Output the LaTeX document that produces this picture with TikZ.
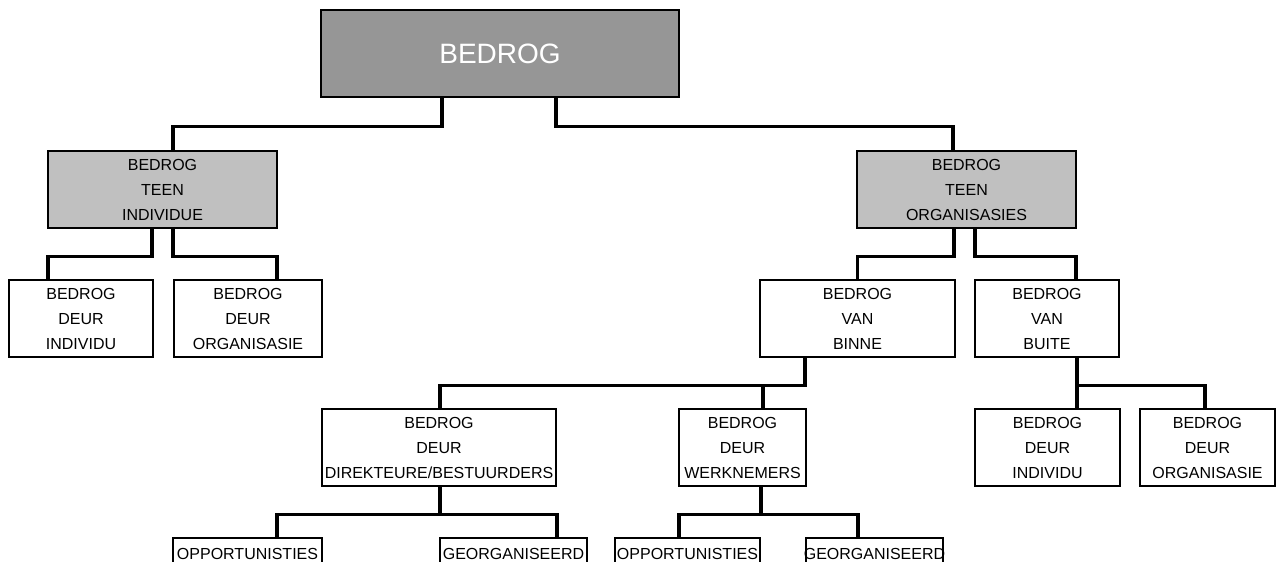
\documentclass[tikz,border=0pt]{standalone}
\usepackage{fontspec}
\setmainfont{Liberation Sans}
\newcommand{\cl}[1]{\hbox to 0pt{\hss #1\hss}}
\newcommand{\three}[3]{\cl{#1}\\\cl{#2}\\\cl{#3}}
\begin{document}
\begin{tikzpicture}[x=1pt,y=-1pt,
  box/.style={draw=black, line width=2.8pt, fill=white, inner sep=0pt, align=center,
    font=\fontsize{16}{25}\selectfont, text=black},
  rootbox/.style={box, fill=rootgray, text=white, font=\fontsize{28}{30}\selectfont},
  midbox/.style={box, fill=midgray},
  botbox/.style={box, minimum height=32pt},
  conn/.style={draw=black, line width=3.8pt, line join=miter}]
\definecolor{rootgray}{RGB}{150,150,150}
\definecolor{midgray}{RGB}{192,192,192}
\clip (0,0) rectangle (1277,562);
\fill[white] (0,0) rectangle (1277,562);
% nodes
\node[rootbox, minimum width=358pt, minimum height=87pt] (root) at (500,53.5) {BEDROG};
\node[midbox, minimum width=229pt, minimum height=77pt] (L1) at (162.5,189.5) {\three{BEDROG}{TEEN}{INDIVIDUE}};
\node[midbox, minimum width=219pt, minimum height=77pt] (R1) at (966.5,189.5) {\three{BEDROG}{TEEN}{ORGANISASIES}};
\node[box, minimum width=144pt, minimum height=77pt] (L2a) at (81,318.5) {\three{BEDROG}{DEUR}{INDIVIDU}};
\node[box, minimum width=148pt, minimum height=77pt] (L2b) at (248,318.5) {\three{BEDROG}{DEUR}{ORGANISASIE}};
\node[box, minimum width=195pt, minimum height=77pt] (R2a) at (857.5,318.5) {\three{BEDROG}{VAN}{BINNE}};
\node[box, minimum width=144pt, minimum height=77pt] (R2b) at (1047,318.5) {\three{BEDROG}{VAN}{BUITE}};
\node[box, minimum width=234pt, minimum height=77pt] (L3a) at (439,447.5) {\three{BEDROG}{DEUR}{DIREKTEURE/BESTUURDERS}};
\node[box, minimum width=127pt, minimum height=77pt] (L3b) at (742.5,447.5) {\three{BEDROG}{DEUR}{WERKNEMERS}};
\node[box, minimum width=145pt, minimum height=77pt] (R3a) at (1047.5,447.5) {\three{BEDROG}{DEUR}{INDIVIDU}};
\node[box, minimum width=135pt, minimum height=77pt] (R3b) at (1207.5,447.5) {\three{BEDROG}{DEUR}{ORGANISASIE}};
\node[botbox, minimum width=149pt] (B1) at (247.5,554) {\cl{OPPORTUNISTIES}};
\node[botbox, minimum width=147pt] (B2) at (513.5,554) {\cl{GEORGANISEERD}};
\node[botbox, minimum width=145pt] (B3) at (687.5,554) {\cl{OPPORTUNISTIES}};
\node[botbox, minimum width=137pt] (B4) at (874.5,554) {\cl{GEORGANISEERD}};
% connectors
\draw[conn] ([xshift=-58pt]root.south) -- ++(0,28) -| ([xshift=10.5pt]L1.north);
\draw[conn] ([xshift=56pt]root.south) -- ++(0,28) -| ([xshift=-13.5pt]R1.north);
\draw[conn] ([xshift=-10.5pt]L1.south) -- ++(0,27) -| ([xshift=-33pt]L2a.north);
\draw[conn] ([xshift=10.5pt]L1.south) -- ++(0,27) -| ([xshift=29pt]L2b.north);
\draw[conn] ([xshift=-12.5pt]R1.south) -- ++(0,27) -| (R2a.north);
\draw[conn] ([xshift=8.5pt]R1.south) -- ++(0,27) -| ([xshift=29pt]R2b.north);
\draw[conn] ([xshift=-52.5pt]R2a.south) -- ++(0,27) -| ([xshift=1pt]L3a.north);
\draw[conn] ([xshift=-52.5pt]R2a.south) -- ++(0,27) -| ([xshift=20.5pt]L3b.north);
\draw[conn] ([xshift=30pt]R2b.south) -- ++(0,27) -| ([xshift=29.5pt]R3a.north);
\draw[conn] ([xshift=30pt]R2b.south) -- ++(0,27) -| ([xshift=-2.5pt]R3b.north);
\draw[conn] ([xshift=1pt]L3a.south) -- ++(0,27) -| ([xshift=29.5pt]B1.north);
\draw[conn] ([xshift=1pt]L3a.south) -- ++(0,27) -| ([xshift=43.5pt]B2.north);
\draw[conn] ([xshift=18.5pt]L3b.south) -- ++(0,27) -| ([xshift=-8.5pt]B3.north);
\draw[conn] ([xshift=18.5pt]L3b.south) -- ++(0,27) -| ([xshift=-16.5pt]B4.north);
\end{tikzpicture}
\end{document}
